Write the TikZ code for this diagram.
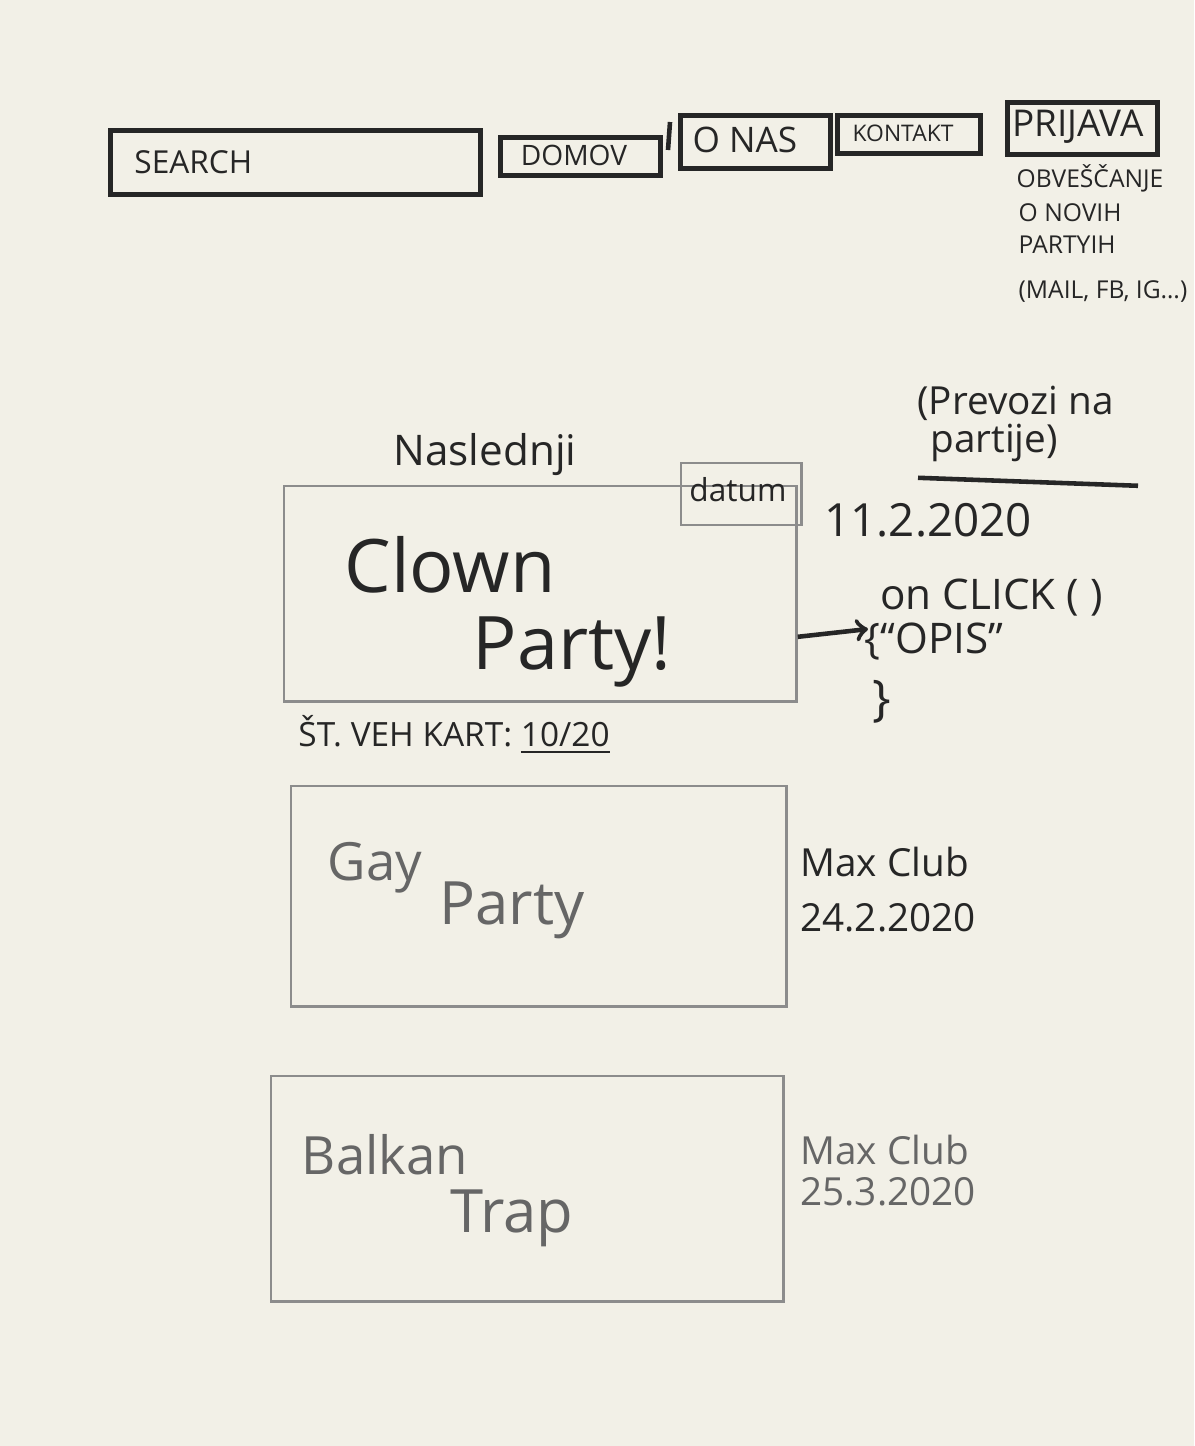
\documentclass[tikz,border=0pt]{standalone}
\usepackage{fontspec}
\setmainfont{Open Sans}
\definecolor{paper}{RGB}{242,240,231}
\begin{document}
\begin{tikzpicture}[x=0.01cm, y=-0.01cm,
	pen/.style={draw=black!85, line width=1.3pt},
	pencil/.style={draw=black!45, line width=0.7pt},
	box/.style={rectangle, inner sep=0pt, anchor=north west},
	ink/.style={text=black!85},
	lead/.style={text=black!60},
	note/.style={ink, font=\fontsize{7}{8}\selectfont, anchor=west, inner sep=0pt}]

	\fill[paper] (0,0) rectangle (1194,1446);
	\useasboundingbox (0,0) rectangle (1194,1446);

	% menu
	\node[box, pen, minimum width=3.7cm, minimum height=0.64cm] (search) at (108,128) {};
	\node[ink, anchor=west, font=\fontsize{9}{11}\selectfont] (searchtxt) at (122,162) {SEARCH};
	\node[box, pen, minimum width=1.6cm, minimum height=0.38cm] (domov) at (498,135) {};
	\node[ink, font=\fontsize{8}{10}\selectfont] (domovtxt) at (574,155) {DOMOV};
	\draw[pen] (670,122) -- (668,150);
	\node[box, pen, minimum width=1.5cm, minimum height=0.53cm] (onas) at (678,113) {};
	\node[ink, font=\fontsize{10}{12}\selectfont] (onastxt) at (745,140) {O NAS};
	\node[box, pen, minimum width=1.43cm, minimum height=0.38cm] (kontakt) at (835,113) {};
	\node[ink, font=\fontsize{6.5}{8}\selectfont] (kontakttxt) at (903,133) {KONTAKT};
	\node[box, pen, minimum width=1.5cm, minimum height=0.52cm] (prijava) at (1005,100) {};
	\node[ink, font=\fontsize{10.5}{12}\selectfont] (prijavatxt) at (1078,127) {PRIJAVA};
	\node[note] (obvescanje) at (1016,178) {OBVEŠČANJE};
	\node[note] (novih) at (1018,213) {O NOVIH};
	\node[note] (partyih) at (1018,245) {PARTYIH};
	\node[note, anchor=east] (kanali) at (1188,292) {(MAIL, FB, IG…)};

	% prevozi
	\node[ink, font=\fontsize{11}{13}\selectfont, anchor=west] (prevozi) at (905,403) {(Prevozi na};
	\node[ink, font=\fontsize{11}{13}\selectfont, anchor=west] (partije) at (918,443) {partije)};
	\draw[pen] ([yshift=-1pt]partije.south west) -- ++(220,8);

	% naslednji
	\node[ink, font=\fontsize{12}{14}\selectfont] (naslednji) at (485,455) {Naslednji};
	\node[box, pencil, minimum width=5.12cm, minimum height=2.15cm] (clown) at (283,485) {};
	\node[box, pencil, minimum width=1.2cm, minimum height=0.62cm] (datum) at (680,462) {};
	\node[ink, font=\fontsize{9}{11}\selectfont] (datumtxt) at (738,490) {datum};
	\node[ink, font=\fontsize{13}{15}\selectfont, anchor=west] (datumval) at (812,520) {11.2.2020};
	\node[ink, font=\fontsize{21}{25}\selectfont] (clowntxt) at (450,565) {Clown};
	\node[ink, font=\fontsize{21}{25}\selectfont] (partytxt) at (572,652) {Party!};
	\node[ink, font=\fontsize{12}{14}\selectfont, anchor=west] (click) at (868,598) {on CLICK ( )};
	\node[ink, font=\fontsize{12}{14}\selectfont, anchor=west] (opis) at (852,642) {\{“OPIS”};
	\node[ink, font=\fontsize{14}{16}\selectfont, anchor=west] (zaklep) at (860,702) {\}};
	\draw[pen, ->] ([yshift=-0.43cm]clown.east) -- (click.south west);
	\node[ink, font=\fontsize{9.5}{11}\selectfont, anchor=west] (karte) at (286,735) {ŠT. VEH KART: \underline{10/20}};

	% gay party
	\node[box, pencil, minimum width=4.95cm, minimum height=2.2cm] (gay) at (290,785) {};
	\node[lead, font=\fontsize{15}{17}\selectfont] (gaytxt) at (375,868) {Gay};
	\node[lead, font=\fontsize{17}{19}\selectfont] (gayparty) at (512,910) {Party};
	\node[ink, font=\fontsize{11}{13}\selectfont, anchor=west] (gayclub) at (788,862) {Max Club};
	\node[ink, font=\fontsize{11}{13}\selectfont, anchor=west] (gaydate) at (788,918) {24.2.2020};

	% balkan trap
	\node[box, pencil, minimum width=5.12cm, minimum height=2.25cm] (balkan) at (270,1075) {};
	\node[lead, font=\fontsize{15}{17}\selectfont] (balkantxt) at (385,1155) {Balkan};
	\node[lead, font=\fontsize{17}{19}\selectfont] (trap) at (512,1218) {Trap};
	\node[lead, font=\fontsize{11}{13}\selectfont, anchor=west] (balkanclub) at (788,1150) {Max Club};
	\node[lead, font=\fontsize{11}{13}\selectfont, anchor=west] (balkandate) at (788,1192) {25.3.2020};

\end{tikzpicture}
\end{document}
